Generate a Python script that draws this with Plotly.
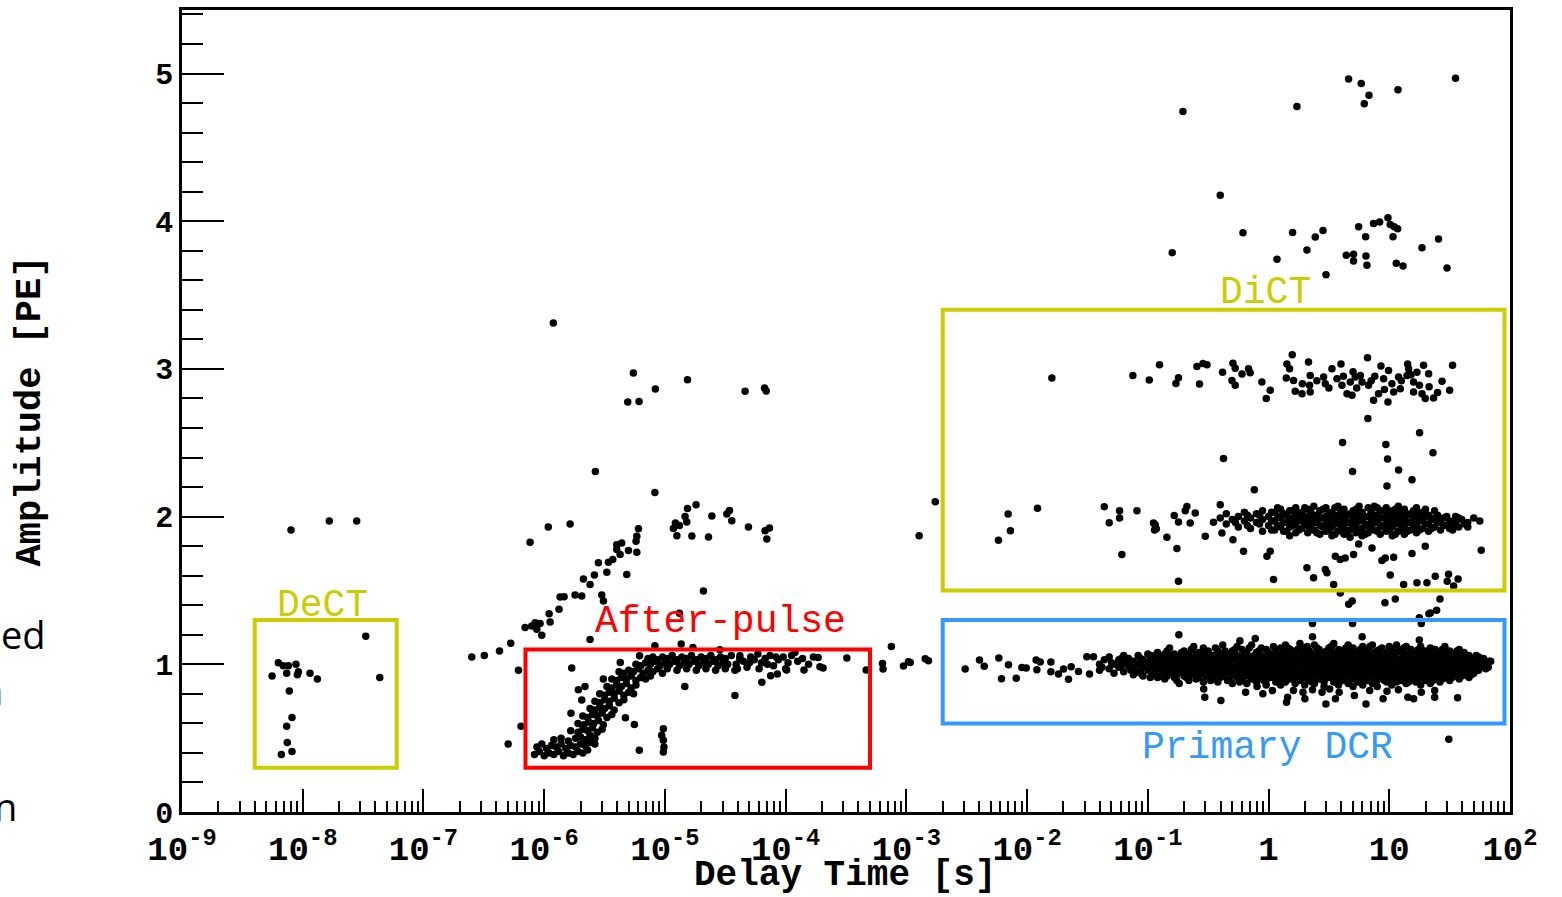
import math
import plotly.graph_objects as go

# ---------------- data ----------------
# points are (log10 of delay time in s, amplitude in PE)
sparse_pts = [
    # DeCT region and early points
    (-8.097, 1.91), (-7.78, 1.97), (-7.553, 1.97), (-7.478, 1.19), (-7.362, 0.91),
    (-8.202, 1.01), (-8.161, 0.99), (-8.119, 0.99), (-8.056, 1.00), (-8.133, 0.94),
    (-8.036, 0.95), (-8.044, 0.93), (-8.254, 0.92), (-7.94, 0.94), (-7.879, 0.90),
    (-8.111, 0.82), (-8.089, 0.64), (-8.133, 0.58), (-8.128, 0.47), (-8.089, 0.41),
    (-8.177, 0.39),
    # chain before / above the after-pulse box
    (-6.60, 1.05), (-6.496, 1.06), (-6.37, 1.09), (-6.277, 1.143),
    (-6.192, 0.58), (-6.298, 0.46), (-6.213, 0.96),
    (-6.158, 1.249), (-6.103, 1.26), (-6.075, 1.282), (-6.061, 1.238), (-6.034, 1.276),
    (-6.020, 1.197), (-5.959, 1.343), (-5.951, 1.287), (-5.877, 1.373), (-5.868, 1.456),
    (-5.835, 1.458), (-5.744, 1.469), (-5.689, 1.462), (-5.620, 1.541), (-5.675, 1.577),
    (-5.584, 1.604), (-5.523, 1.469), (-5.509, 1.429), (-5.481, 1.624), (-5.551, 1.687),
    (-5.468, 1.691), (-5.432, 1.709), (-5.371, 1.743), (-5.399, 1.777), (-5.399, 1.81),
    (-5.358, 1.821), (-5.302, 1.770), (-5.316, 1.608), (-5.233, 1.759), (-5.239, 1.833),
    (-5.233, 1.867), (-5.219, 1.918), (-5.620, 1.168), (-6.117, 1.826), (-5.966, 1.93),
    (-5.785, 1.95), (-5.576, 2.305), (-5.924, 3.31),
    (-5.261, 2.972), (-5.308, 2.776), (-5.214, 2.78), (-5.079, 2.864), (-4.813, 2.927),
    (-4.336, 2.848), (-4.175, 2.87), (-4.161, 2.85),
    (-5.083, 2.163), (-4.742, 2.08), (-4.813, 2.055), (-4.833, 2.0), (-4.819, 1.963),
    (-4.913, 1.956), (-4.930, 1.92), (-4.880, 1.94), (-4.901, 1.87), (-4.777, 1.869),
    (-4.611, 2.004), (-4.639, 1.862), (-4.487, 2.017), (-4.465, 2.042), (-4.446, 1.972),
    (-4.308, 1.93), (-4.170, 1.905), (-4.134, 1.923), (-4.156, 1.848), (-4.681, 1.496),
    (-4.880, 1.346),
    # after-pulse outliers
    (-5.772, 0.975), (-5.717, 0.827), (-5.662, 0.849), (-5.689, 0.759), (-5.778, 0.669),
    (-5.253, 0.593), (-5.327, 0.638), (-5.212, 0.418), (-5.013, 0.564), (-5.027, 0.519),
    (-5.013, 0.485), (-5.008, 0.44), (-5.013, 0.406), (-4.420, 0.788), (-4.835, 0.849),
    (-4.197, 0.878), (-5.51, 0.90), (-5.37, 1.013), (-5.21, 1.058), (-5.083, 1.125),
    (-4.865, 1.137), (-4.768, 1.114), (-4.545, 1.098), (-4.379, 1.058), (-3.923, 1.08),
    (-3.731, 1.046), (-3.716, 0.984), (-3.848, 0.962), (-3.992, 0.962), (-4.069, 0.935),
    (-4.124, 0.923), (-3.69, 0.975),
    # trail between the boxes
    (-3.493, 1.042), (-3.333, 0.962), (-3.124, 1.121), (-3.198, 1.005), (-3.193, 0.968),
    (-3.024, 0.989), (-2.983, 1.017), (-2.968, 1.013), (-2.844, 1.038), (-2.817, 1.024),
    (-2.894, 1.871), (-2.761, 2.100),
    # low-delay part of the DiCT box
    (-2.237, 1.84), (-2.157, 2.017), (-2.138, 1.905), (-1.914, 2.057), (-1.361, 2.067),
    (-1.320, 1.959), (-1.234, 2.04), (-1.234, 1.99), (-1.090, 2.04), (-1.215, 1.743),
    (-0.939, 1.945), (-0.944, 1.91),
    # primary DCR trail
    (-2.513, 0.968), (-2.394, 1.029), (-2.355, 0.986), (-2.234, 1.042), (-2.212, 0.903),
    (-2.154, 0.997), (-2.090, 0.905), (-2.043, 0.979), (-2.007, 0.975), (-1.925, 1.029),
    (-1.891, 1.015), (-1.919, 0.963), (-1.803, 1.015), (-1.803, 0.95), (-1.740, 0.935),
    (-1.698, 0.968), (-1.657, 0.898), (-1.635, 0.984), (-1.574, 0.952), (-1.505, 1.051),
    (-1.450, 1.051), (-1.483, 0.935),
    # high-amplitude scatter (> 3.5 PE)
    (-0.709, 4.742), (0.235, 4.776), (0.663, 4.962), (0.768, 4.933), (0.832, 4.852),
    (0.793, 4.796), (1.072, 4.89), (1.549, 4.968), (-0.400, 4.176), (-0.212, 3.922),
    (-0.798, 3.787), (0.070, 3.742), (0.199, 3.924), (0.318, 3.805), (0.387, 3.893),
    (0.451, 3.937), (0.476, 3.637), (0.644, 3.769), (0.704, 3.776), (0.704, 3.731),
    (0.746, 3.962), (0.804, 3.895), (0.807, 3.765), (0.815, 3.702), (0.870, 3.985),
    (0.920, 3.994), (0.989, 4.023), (1.008, 3.978), (1.041, 3.962), (1.069, 3.949),
    (1.031, 3.895), (1.058, 3.715), (1.114, 3.697), (1.271, 3.821), (1.408, 3.879),
    (1.478, 3.684),
    # 3 PE band
    (-1.795, 2.938), (-1.124, 2.956), (-0.988, 2.925), (-0.903, 3.028), (-0.767, 2.902),
    (-0.746, 2.94), (-0.593, 3.017), (-0.543, 3.037), (-0.510, 3.028), (-0.572, 2.898),
    (-0.381, 2.978), (-0.295, 3.039), (-0.276, 3.005), (-0.220, 2.965), (-0.166, 3.001),
    (-0.152, 2.974), (-0.303, 2.922), (-0.276, 2.889), (-0.055, 2.911), (0.014, 2.855),
    (-0.019, 2.799), (0.196, 3.095), (0.152, 3.034), (0.174, 3.001), (0.147, 2.938),
    (0.207, 2.922), (0.221, 2.848), (0.277, 2.832), (0.331, 3.046), (0.345, 2.956),
    (0.340, 2.889), (0.345, 2.844), (0.456, 2.945), (0.470, 2.9), (0.525, 3.001),
    (0.567, 2.933), (0.600, 3.034), (0.608, 2.889), (0.650, 2.832), (0.691, 2.821),
    (0.677, 2.911), (0.718, 2.945), (0.760, 2.956), (0.774, 2.911), (0.820, 3.075),
    (0.828, 2.889), (0.870, 2.788), (0.911, 2.832), (0.931, 3.019), (0.953, 2.933),
    (0.989, 2.776), (0.994, 2.99), (1.022, 2.9), (1.036, 2.844), (1.091, 2.866),
    (1.077, 2.945), (1.152, 3.034), (1.160, 3.001), (1.147, 2.956), (1.201, 2.911),
    (1.229, 2.978), (1.201, 2.844), (1.271, 2.832), (1.298, 2.799), (1.326, 2.967),
    (1.367, 2.803), (1.284, 3.024), (1.437, 2.916), (1.500, 2.855), (1.524, 3.024),
    (0.40, 2.92), (0.50, 2.87), (0.62, 2.95), (0.73, 2.87), (0.88, 2.95), (0.96, 2.86),
    (1.10, 2.92), (1.18, 2.96), (1.25, 2.89), (1.33, 2.88), (1.40, 2.84), (0.28, 2.90),
    (0.70, 2.98), (0.85, 2.92),
    # between 2 and 3 PE
    (0.823, 2.664), (1.251, 2.567), (0.613, 2.502), (0.972, 2.489), (1.362, 2.433),
    (0.986, 2.39), (-0.373, 2.394), (1.077, 2.316), (0.696, 2.305), (1.188, 2.249),
    (0.981, 2.208),
    # sparse part of the 2 PE band
    (-0.953, 1.956), (-0.930, 1.918), (-0.842, 1.86), (-0.781, 2.008), (-0.759, 1.784),
    (-0.746, 1.963), (-0.690, 2.04), (-0.676, 2.069), (-0.649, 1.956), (-0.607, 2.024),
    (-0.524, 1.867), (-0.456, 1.961), (-0.400, 2.08), (-0.386, 1.889), (-0.295, 1.844),
    (-0.207, 1.765), (-0.746, 1.563), (-0.118, 2.181), (0.014, 1.765), (0.041, 1.575),
    (-0.013, 1.732),
    # below the 2 PE band
    (0.318, 1.653), (0.373, 1.586), (0.470, 1.642), (0.484, 1.620), (0.539, 1.541),
    (0.553, 1.732), (0.594, 1.709), (0.635, 1.720), (0.704, 1.743), (0.746, 1.815),
    (0.857, 1.788), (0.939, 1.703), (0.967, 1.720), (1.008, 1.604), (1.036, 1.725),
    (1.119, 1.541), (1.188, 1.750), (1.229, 1.552), (1.312, 1.552), (1.381, 1.597),
    (1.491, 1.609), (1.533, 1.530), (1.298, 1.799), (1.762, 1.772),
    # between DiCT and primary DCR boxes
    (0.664, 1.406), (0.964, 1.417), (1.249, 1.316), (1.328, 1.343), (1.392, 1.366),
    (0.364, 1.276), (0.696, 1.276), (1.265, 1.276), (0.594, 1.482), (0.693, 1.429),
    (1.05, 1.442), (1.42, 1.442), (1.48, 1.563), (1.57, 1.577), (1.34, 1.348),
    # lower / upper edges of the primary DCR band
    (-0.537, 0.833), (-0.528, 0.777), (-0.395, 0.755), (-0.190, 0.811), (-0.095, 0.849),
    (-0.047, 0.800), (0.032, 0.822), (0.158, 0.777), (0.149, 0.743), (0.206, 0.822),
    (0.285, 0.811), (0.301, 0.766), (0.364, 0.827), (0.443, 0.811), (0.475, 0.732),
    (0.506, 0.833), (0.554, 0.766), (0.585, 0.811), (0.711, 0.789), (0.807, 0.732),
    (0.838, 0.822), (0.949, 0.766), (0.981, 0.817), (1.075, 0.827), (1.154, 0.777),
    (1.202, 0.766), (1.265, 0.811), (1.376, 0.777), (1.566, 0.773), (1.376, 0.822),
    (-0.743, 1.2), (-0.237, 1.159), (-0.110, 1.175), (0.364, 1.186), (0.775, 1.186),
    (1.249, 1.164), (1.493, 0.492),
]

# after-pulse band (log10 delay, amplitude)
afterpulse_pts = [
    (-6.08, 0.39), (-6.04, 0.41), (-6.00, 0.38), (-5.96, 0.40), (-5.92, 0.39), (-5.88, 0.41),
    (-5.84, 0.38), (-5.80, 0.40), (-5.76, 0.39), (-5.72, 0.41), (-5.68, 0.40), (-5.64, 0.42),
    (-6.06, 0.44), (-6.02, 0.46), (-5.98, 0.43), (-5.94, 0.45), (-5.90, 0.44), (-5.86, 0.46),
    (-5.82, 0.43), (-5.78, 0.45), (-5.74, 0.44), (-5.70, 0.46), (-5.66, 0.45), (-5.62, 0.47),
    (-5.58, 0.46),
    (-5.92, 0.49), (-5.86, 0.50), (-5.80, 0.48), (-5.74, 0.50), (-5.70, 0.51), (-5.66, 0.49),
    (-5.62, 0.52), (-5.58, 0.50),
    (-5.78, 0.55), (-5.72, 0.54), (-5.68, 0.56), (-5.64, 0.55), (-5.60, 0.57), (-5.56, 0.54),
    (-5.52, 0.56),
    (-5.72, 0.60), (-5.67, 0.59), (-5.63, 0.61), (-5.59, 0.60), (-5.55, 0.62), (-5.51, 0.59),
    (-5.68, 0.65), (-5.64, 0.64), (-5.60, 0.66), (-5.56, 0.65), (-5.52, 0.67), (-5.48, 0.64),
    (-5.44, 0.66),
    (-5.62, 0.70), (-5.58, 0.69), (-5.54, 0.71), (-5.50, 0.70), (-5.46, 0.72), (-5.42, 0.69),
    (-5.58, 0.75), (-5.54, 0.74), (-5.50, 0.76), (-5.46, 0.75), (-5.42, 0.77), (-5.38, 0.74),
    (-5.34, 0.76),
    (-5.54, 0.80), (-5.50, 0.79), (-5.46, 0.81), (-5.42, 0.80), (-5.38, 0.82), (-5.34, 0.79),
    (-5.30, 0.81), (-5.26, 0.80),
    (-5.48, 0.85), (-5.44, 0.84), (-5.40, 0.86), (-5.36, 0.85), (-5.32, 0.87), (-5.28, 0.84),
    (-5.24, 0.86),
    (-5.44, 0.90), (-5.40, 0.89), (-5.36, 0.91), (-5.32, 0.90), (-5.28, 0.92), (-5.24, 0.89),
    (-5.20, 0.91), (-5.16, 0.90), (-5.12, 0.92),
    (-5.38, 0.95), (-5.34, 0.94), (-5.30, 0.96), (-5.26, 0.95), (-5.22, 0.97), (-5.18, 0.94),
    (-5.14, 0.96), (-5.10, 0.95), (-5.06, 0.97), (-5.02, 0.94),
    (-5.24, 1.00), (-5.20, 0.99), (-5.16, 1.01), (-5.12, 1.00), (-5.08, 1.02), (-5.04, 0.99),
    (-5.00, 1.01), (-4.96, 1.00), (-4.92, 1.02), (-4.88, 0.99), (-4.84, 1.01), (-4.80, 1.00),
    (-4.76, 1.02), (-4.72, 0.99), (-4.68, 1.01), (-4.64, 1.00), (-4.60, 1.02), (-4.56, 0.99),
    (-4.52, 1.01), (-4.48, 1.00),
    (-5.14, 1.04), (-5.10, 1.05), (-5.06, 1.03), (-5.02, 1.05), (-4.98, 1.04), (-4.94, 1.06),
    (-4.90, 1.03), (-4.86, 1.05), (-4.82, 1.04), (-4.78, 1.06), (-4.74, 1.03), (-4.70, 1.05),
    (-4.66, 1.04), (-4.62, 1.06), (-4.58, 1.03), (-4.54, 1.05), (-4.50, 1.04), (-4.45, 1.06),
    (-4.98, 0.97), (-4.90, 0.96), (-4.82, 0.97), (-4.74, 0.96), (-4.66, 0.97), (-4.58, 0.96),
    (-4.50, 0.97), (-4.42, 0.96),
    (-4.41, 1.00), (-4.38, 1.04), (-4.35, 1.02), (-4.32, 0.98), (-4.29, 1.05), (-4.26, 1.03),
    (-4.23, 1.07), (-4.20, 1.01), (-4.17, 1.04), (-4.13, 1.06), (-4.10, 0.99), (-4.06, 1.03),
    (-4.02, 1.05), (-3.98, 1.01), (-3.95, 1.06), (-3.90, 1.02), (-3.86, 1.04), (-3.81, 1.00),
    (-3.77, 1.05), (-4.40, 0.97), (-4.30, 1.01), (-4.22, 0.97), (-4.15, 1.00), (-4.08, 1.05),
    (-4.00, 0.97),
]

# dense primary-DCR band: (log10 delay, [amplitudes])
dcr_cols = [
    (-1.40, [1.00, 0.96]), (-1.36, [1.03]), (-1.32, [0.97, 1.05]), (-1.28, [1.00, 0.94]),
    (-1.24, [1.03, 0.98]), (-1.20, [0.95, 1.01, 1.06]), (-1.16, [0.99, 1.04]),
    (-1.12, [0.93, 0.97, 1.02]), (-1.08, [1.00, 1.06, 0.95]), (-1.04, [0.98, 1.03, 0.92]),
    (-1.00, [0.96, 1.01, 1.07]), (-0.96, [0.93, 0.99, 1.04]), (-0.92, [0.97, 1.02, 1.08, 0.91]),
    (-0.88, [0.95, 1.00, 1.05]), (-0.84, [0.92, 0.98, 1.03, 1.09]), (-0.80, [0.96, 1.01, 1.06]),
    (-0.76, [0.93, 0.99, 1.04, 0.89]), (-0.72, [0.97, 1.02, 1.08]), (-0.68, [0.91, 0.95, 1.00, 1.05]),
    (-0.64, [0.93, 0.98, 1.03, 1.10]), (-0.60, [0.96, 1.01, 1.07, 0.90]), (-0.56, [0.94, 0.99, 1.04]),
    (-0.52, [0.92, 0.97, 1.02, 1.08]), (-0.48, [0.95, 1.00, 1.05, 0.89]), (-0.44, [0.93, 0.98, 1.03, 1.11]),
    (-0.40, [0.91, 0.96, 1.01, 1.06]), (-0.36, [0.94, 0.99, 1.04, 1.09]), (-0.32, [0.90, 0.97, 1.02, 1.07]),
    (-0.28, [0.93, 0.98, 1.03, 1.10]), (-0.24, [0.95, 1.00, 1.05, 0.88]), (-0.20, [0.92, 0.97, 1.02, 1.08]),
    (-0.16, [0.94, 0.99, 1.04, 1.11]), (-0.12, [0.90, 0.96, 1.01, 1.06]), (-0.08, [0.93, 0.98, 1.03, 1.09]),
    (-0.04, [0.95, 1.00, 1.05, 0.89]), (0.00, [0.92, 0.97, 1.02, 1.08]), (0.04, [0.94, 0.99, 1.04, 1.12]),
    (0.08, [0.91, 0.96, 1.01, 1.06]), (0.12, [0.93, 0.98, 1.03, 1.09, 0.88]), (0.16, [0.95, 1.00, 1.05, 1.11]),
    (0.20, [0.92, 0.97, 1.02, 1.07]), (0.24, [0.90, 0.94, 0.99, 1.04, 1.10]), (0.28, [0.93, 0.98, 1.03, 1.08]),
    (0.32, [0.91, 0.96, 1.01, 1.06, 1.12]), (0.36, [0.94, 0.99, 1.04, 0.88]), (0.40, [0.92, 0.97, 1.02, 1.07, 1.11]),
    (0.44, [0.90, 0.95, 1.00, 1.05]), (0.48, [0.93, 0.98, 1.03, 1.09]), (0.52, [0.91, 0.96, 1.01, 1.06, 1.12]),
    (0.56, [0.94, 0.99, 1.04, 0.88]), (0.60, [0.92, 0.97, 1.02, 1.08]), (0.64, [0.90, 0.95, 1.00, 1.05, 1.11]),
    (0.68, [0.93, 0.98, 1.03, 1.09]), (0.72, [0.91, 0.96, 1.01, 1.06]), (0.76, [0.94, 0.99, 1.04, 1.10, 0.88]),
    (0.80, [0.92, 0.97, 1.02, 1.07]), (0.84, [0.90, 0.95, 1.00, 1.05, 1.12]), (0.88, [0.93, 0.98, 1.03, 1.08]),
    (0.92, [0.91, 0.96, 1.01, 1.06, 1.10]), (0.96, [0.94, 0.99, 1.04, 0.89]), (1.00, [0.92, 0.97, 1.02, 1.08, 1.12]),
    (1.04, [0.90, 0.95, 1.00, 1.05]), (1.08, [0.93, 0.98, 1.03, 1.09]), (1.12, [0.91, 0.96, 1.01, 1.06, 1.11]),
    (1.16, [0.94, 0.99, 1.04, 0.88]), (1.20, [0.92, 0.97, 1.02, 1.07]), (1.24, [0.90, 0.95, 1.00, 1.05, 1.10]),
    (1.28, [0.93, 0.98, 1.03, 1.08]), (1.32, [0.91, 0.96, 1.01, 1.06]), (1.36, [0.94, 0.99, 1.04, 1.09, 0.89]),
    (1.40, [0.92, 0.97, 1.02, 1.07]), (1.44, [0.90, 0.95, 1.00, 1.05, 1.10]), (1.48, [0.93, 0.98, 1.03, 1.08]),
    (1.52, [0.91, 0.96, 1.01, 1.06]), (1.56, [0.94, 0.99, 1.04, 1.09]), (1.60, [0.92, 0.97, 1.02, 1.07]),
    (1.64, [0.95, 1.00, 1.05]), (1.68, [0.93, 0.98, 1.03]), (1.72, [0.96, 1.01, 1.06]),
    (1.76, [0.98, 1.03]), (1.80, [0.97, 1.01]), (1.84, [1.02]),
]
dcr_cols_b = [
    (-1.38, [0.98]), (-1.30, [1.01]), (-1.22, [0.99, 1.04]), (-1.14, [0.96, 1.01]),
    (-1.06, [0.94, 1.00, 1.04]), (-0.98, [0.91, 0.98, 1.03, 1.06]), (-0.94, [0.95, 1.00, 1.06]),
    (-0.90, [0.92, 0.98, 1.03]), (-0.86, [0.90, 0.96, 1.01, 1.07]), (-0.82, [0.94, 0.99, 1.04, 1.11]),
    (-0.78, [0.91, 0.97, 1.02, 1.07]), (-0.74, [0.95, 1.00, 1.05, 0.87]), (-0.70, [0.92, 0.98, 1.03, 1.09]),
    (-0.66, [0.89, 0.96, 1.01, 1.07]), (-0.62, [0.94, 0.99, 1.04, 1.12]), (-0.58, [0.91, 0.97, 1.02, 1.08]),
    (-0.54, [0.88, 0.95, 1.00, 1.05, 1.11]), (-0.50, [0.92, 0.97, 1.03, 1.09]), (-0.46, [0.90, 0.95, 1.00, 1.06]),
    (-0.42, [0.88, 0.94, 0.99, 1.04, 1.09]), (-0.38, [0.92, 0.97, 1.02, 1.07, 1.13]), (-0.34, [0.89, 0.95, 1.00, 1.05]),
    (-0.30, [0.87, 0.93, 0.98, 1.04, 1.09]), (-0.26, [0.91, 0.96, 1.01, 1.06, 1.12]), (-0.22, [0.89, 0.94, 0.99, 1.04, 1.10]),
    (-0.18, [0.87, 0.92, 0.97, 1.02, 1.07]), (-0.14, [0.90, 0.95, 1.00, 1.05, 1.13]), (-0.10, [0.88, 0.93, 0.98, 1.03, 1.08]),
    (-0.06, [0.91, 0.96, 1.01, 1.06, 1.11]), (-0.02, [0.86, 0.89, 0.94, 0.99, 1.04, 1.10]), (0.02, [0.91, 0.96, 1.01, 1.06]),
    (0.06, [0.88, 0.93, 0.98, 1.03, 1.09]), (0.10, [0.86, 0.90, 0.95, 1.00, 1.05, 1.11]), (0.14, [0.88, 0.92, 0.97, 1.02, 1.07, 1.13]),
    (0.18, [0.90, 0.95, 1.00, 1.05, 1.10]), (0.22, [0.87, 0.92, 0.97, 1.02, 1.08]), (0.26, [0.89, 0.94, 0.99, 1.04, 1.09, 1.14]),
    (0.30, [0.86, 0.91, 0.96, 1.01, 1.06, 1.11]), (0.34, [0.89, 0.94, 0.99, 1.04, 1.09]), (0.38, [0.87, 0.92, 0.97, 1.02, 1.07, 1.13]),
    (0.42, [0.90, 0.95, 1.00, 1.05, 1.10]), (0.46, [0.85, 0.88, 0.93, 0.98, 1.03, 1.08]), (0.50, [0.91, 0.96, 1.01, 1.06, 1.11]),
    (0.54, [0.88, 0.93, 0.98, 1.03, 1.08, 1.14]), (0.58, [0.86, 0.90, 0.95, 1.00, 1.05, 1.10]), (0.62, [0.89, 0.94, 0.99, 1.04, 1.09]),
    (0.66, [0.87, 0.92, 0.97, 1.02, 1.07, 1.13]), (0.70, [0.85, 0.90, 0.95, 1.00, 1.05, 1.11]), (0.74, [0.88, 0.93, 0.98, 1.03, 1.08]),
    (0.78, [0.86, 0.91, 0.96, 1.01, 1.06, 1.12]), (0.82, [0.89, 0.94, 0.99, 1.04, 1.09]), (0.86, [0.87, 0.92, 0.97, 1.02, 1.07, 1.13]),
    (0.90, [0.85, 0.89, 0.94, 0.99, 1.04, 1.09]), (0.94, [0.91, 0.96, 1.01, 1.06, 1.11]), (0.98, [0.88, 0.93, 0.98, 1.03, 1.08]),
    (1.02, [0.86, 0.90, 0.95, 1.00, 1.05, 1.10]), (1.06, [0.88, 0.93, 0.98, 1.03, 1.08, 1.13]), (1.10, [0.89, 0.94, 0.99, 1.04, 1.09]),
    (1.14, [0.87, 0.92, 0.97, 1.02, 1.07, 1.12]), (1.18, [0.90, 0.95, 1.00, 1.05, 1.10]), (1.22, [0.88, 0.93, 0.98, 1.03, 1.08]),
    (1.26, [0.86, 0.91, 0.96, 1.01, 1.06, 1.12]), (1.30, [0.89, 0.94, 0.99, 1.04, 1.09]), (1.34, [0.87, 0.92, 0.97, 1.02, 1.07, 1.11]),
    (1.38, [0.90, 0.95, 1.00, 1.05, 1.10]), (1.42, [0.88, 0.93, 0.98, 1.03, 1.08]), (1.46, [0.91, 0.96, 1.01, 1.06, 1.12]),
    (1.50, [0.89, 0.94, 0.99, 1.04, 1.09]), (1.54, [0.92, 0.97, 1.02, 1.07]), (1.58, [0.90, 0.95, 1.00, 1.05, 1.10]),
    (1.62, [0.93, 0.98, 1.03, 1.08]), (1.66, [0.91, 0.97, 1.02, 1.06]), (1.70, [0.94, 0.99, 1.04]),
    (1.74, [0.96, 1.00, 1.05]), (1.78, [0.99, 1.04]), (1.82, [0.98, 1.02]),
]

# 2 PE band inside the DiCT box: (log10 delay, [amplitudes])
dict_cols = [
    (-0.40, [1.99]), (-0.35, [1.95, 2.02]), (-0.30, [1.98]), (-0.25, [1.93, 2.00]),
    (-0.20, [1.97, 2.03]), (-0.15, [1.92, 1.99]), (-0.10, [1.96, 2.02]), (-0.05, [1.90, 1.98, 2.04]),
    (0.00, [1.94, 2.00]), (0.05, [1.97, 2.03, 1.91]), (0.10, [1.93, 1.99, 2.05]), (0.15, [1.96, 2.01, 1.90]),
    (0.20, [1.94, 1.99, 2.04]), (0.25, [1.91, 1.97, 2.02]), (0.30, [1.95, 2.00, 2.06]), (0.35, [1.92, 1.98, 2.03]),
    (0.40, [1.96, 2.01, 1.89]), (0.45, [1.93, 1.99, 2.05]), (0.50, [1.91, 1.97, 2.02]), (0.55, [1.95, 2.00, 2.06, 1.88]),
    (0.60, [1.92, 1.98, 2.03]), (0.65, [1.96, 2.01, 1.90]), (0.70, [1.93, 1.99, 2.04]), (0.75, [1.91, 1.97, 2.02, 2.07]),
    (0.80, [1.95, 2.00, 1.88]), (0.85, [1.92, 1.98, 2.03]), (0.90, [1.96, 2.01, 1.90, 2.06]), (0.95, [1.93, 1.99, 2.04]),
    (1.00, [1.91, 1.97, 2.02]), (1.05, [1.95, 2.00, 1.88, 2.05]), (1.10, [1.92, 1.98, 2.03]), (1.15, [1.96, 2.01, 1.90]),
    (1.20, [1.93, 1.99, 2.04]), (1.25, [1.91, 1.97, 2.02]), (1.30, [1.95, 2.00, 2.05]), (1.35, [1.92, 1.98]),
    (1.40, [1.96, 2.01]), (1.45, [1.94, 1.99]), (1.50, [1.97, 1.92]), (1.55, [1.95, 2.00]),
    (1.60, [1.98]), (1.65, [1.96, 1.93]), (1.70, [1.99]), (1.75, [1.97]),
]
dict_cols_b = [
    (-0.275, [1.96]), (-0.175, [1.94, 2.01]), (-0.075, [1.95, 2.01]), (0.025, [1.91, 1.97, 2.03]),
    (0.075, [1.94, 2.00, 2.06]), (0.125, [1.90, 1.96, 2.02]), (0.175, [1.93, 1.98, 2.04, 1.87]),
    (0.225, [1.89, 1.95, 2.00, 2.06]), (0.275, [1.92, 1.98, 2.03]), (0.325, [1.89, 1.94, 1.99, 2.05]),
    (0.375, [1.91, 1.96, 2.01, 2.07]), (0.425, [1.88, 1.94, 1.99, 2.04]), (0.475, [1.90, 1.95, 2.00, 2.06]),
    (0.525, [1.87, 1.93, 1.98, 2.03]), (0.575, [1.90, 1.96, 2.01, 2.07]), (0.625, [1.88, 1.94, 1.99, 2.05]),
    (0.675, [1.91, 1.96, 2.02, 1.86]), (0.725, [1.89, 1.95, 2.00, 2.05]), (0.775, [1.92, 1.98, 2.03, 1.87]),
    (0.825, [1.89, 1.94, 2.00, 2.06]), (0.875, [1.91, 1.96, 2.01, 2.07]), (0.925, [1.88, 1.94, 1.99, 2.04]),
    (0.975, [1.90, 1.95, 2.00, 2.06]), (1.025, [1.87, 1.93, 1.98, 2.04]), (1.075, [1.90, 1.96, 2.01, 2.07]),
    (1.125, [1.88, 1.94, 1.99, 2.05]), (1.175, [1.91, 1.96, 2.02]), (1.225, [1.89, 1.95, 2.00, 2.06]),
    (1.275, [1.92, 1.98, 2.03]), (1.325, [1.90, 1.95, 2.01]), (1.375, [1.93, 1.99, 2.04]),
    (1.425, [1.91, 1.97]), (1.475, [1.94, 2.00]), (1.525, [1.96, 1.91]), (1.575, [1.93, 1.99]),
    (1.625, [1.95]),
]

# selection boxes
box_names = ["DeCT", "After-pulse", "DiCT", "Primary DCR"]
box_t0 = [4e-9, 7e-7, 2e-3, 2e-3]
box_t1 = [6e-8, 5e-4, 90.0, 90.0]
box_a0 = [0.3, 0.3, 1.5, 0.6]
box_a1 = [1.3, 1.1, 3.4, 1.3]
box_colors = ["#CCCC00", "#FF0000", "#CCCC00", "#3399FF"]
label_t = [1.47e-8, 2.86e-5, 0.94, 0.975]
label_a = [1.40, 1.29, 3.52, 0.44]

decade_vals = [1e-9, 1e-8, 1e-7, 1e-6, 1e-5, 1e-4, 1e-3, 1e-2, 1e-1, 1.0, 10.0, 100.0]
decade_text = ["10<sup>-9</sup>", "10<sup>-8</sup>", "10<sup>-7</sup>", "10<sup>-6</sup>",
               "10<sup>-5</sup>", "10<sup>-4</sup>", "10<sup>-3</sup>", "10<sup>-2</sup>",
               "10<sup>-1</sup>", "1", "10", "10<sup>2</sup>"]

# ---------------- assemble ----------------
log_t, amp = [], []
for lt, a in sparse_pts + afterpulse_pts:
    log_t.append(lt)
    amp.append(a)
for lt, amps in dcr_cols + dcr_cols_b + dict_cols + dict_cols_b:
    for a in amps:
        log_t.append(lt)
        amp.append(a)
delay_s = [10 ** v for v in log_t]

minor_vals = [m * d for d in decade_vals[:-1] for m in range(2, 10)]

MONO = "Liberation Mono, Courier New, monospace"

fig = go.Figure()
fig.add_trace(go.Scatter(
    x=delay_s, y=amp, mode="markers",
    marker=dict(size=7.5, color="black", line=dict(width=0)),
    showlegend=False, hoverinfo="skip",
))

for i in range(len(box_names)):
    fig.add_shape(type="rect", xref="x", yref="y",
                  x0=box_t0[i], x1=box_t1[i], y0=box_a0[i], y1=box_a1[i],
                  line=dict(color=box_colors[i], width=4), fillcolor="rgba(0,0,0,0)",
                  layer="above")
    fig.add_annotation(x=math.log10(label_t[i]), y=label_a[i], xref="x", yref="y",
                       text=box_names[i], showarrow=False,
                       font=dict(family=MONO, size=38, color=box_colors[i]),
                       xanchor="center", yanchor="middle")

W, H = 1562, 897
L, R, T, B = 182, 52, 7, 85
pw, ph = W - L - R, H - T - B

def px_to_paper(px, py):
    return (px - L) / pw, (H - B - py) / ph

# axis titles
xt, yt = px_to_paper(845, 876)
fig.add_annotation(x=xt, y=yt, xref="paper", yref="paper", text="Delay Time [s]",
                   showarrow=False, font=dict(family=MONO, size=36, color="black", weight="bold"),
                   xanchor="center", yanchor="middle")
xa, ya = px_to_paper(30, 410)
fig.add_annotation(x=xa, y=ya, xref="paper", yref="paper", text="Amplitude [PE]",
                   showarrow=False, textangle=-90,
                   font=dict(family=MONO, size=37, color="black", weight="bold"),
                   xanchor="center", yanchor="middle")

# slide text fragments cut at the left edge
for txt, px, py in [("ed", 48, 633), ("n", 5, 690), ("n", 19, 806)]:
    ax_, ay_ = px_to_paper(px, py)
    fig.add_annotation(x=ax_, y=ay_, xref="paper", yref="paper", text=txt, showarrow=False,
                       font=dict(family="Open Sans, Noto Sans, sans-serif", size=38, color="black"),
                       xanchor="right", yanchor="middle")

fig.update_layout(
    width=W, height=H,
    margin=dict(l=L, r=R, t=T, b=B),
    paper_bgcolor="white", plot_bgcolor="white",
    xaxis=dict(
        type="log", range=[-9, 2], tickmode="array", tickvals=decade_vals, ticktext=decade_text,
        ticks="inside", ticklen=23, tickwidth=2, tickcolor="black",
        showline=True, linecolor="black", linewidth=2.5, mirror=True,
        showgrid=False, zeroline=False, ticklabelstandoff=4,
        tickfont=dict(family=MONO, size=34, color="black", weight="bold"),
        minor=dict(tickmode="array", tickvals=minor_vals, ticks="inside", ticklen=11,
                   tickwidth=1.5, tickcolor="black", showgrid=False),
    ),
    yaxis=dict(
        range=[0, 5.43], tickmode="linear", tick0=0, dtick=1,
        ticks="inside", ticklen=42, tickwidth=2, tickcolor="black",
        showline=True, linecolor="black", linewidth=2.5, mirror=True,
        showgrid=False, zeroline=False,
        tickfont=dict(family=MONO, size=30, color="black", weight="bold"),
        minor=dict(dtick=0.2, tick0=0, ticks="inside", ticklen=21, tickwidth=2,
                   tickcolor="black", showgrid=False),
    ),
)

fig.write_html("out.html")
